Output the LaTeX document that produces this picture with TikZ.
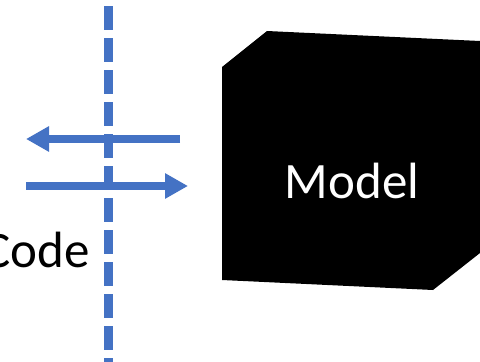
\documentclass[tikz,border=0pt]{standalone}
\usepackage{fontspec}
\setmainfont{Carlito}
\usepackage{xcolor}
\usetikzlibrary{arrows.meta}
\definecolor{officeblue}{HTML}{4472C4}
\tikzset{
  flow/.style={officeblue,line width=8pt,-{Triangle[length=23pt,width=24pt]}},
  wall/.style={officeblue,line width=8.5pt,dash pattern=on 24pt off 8pt},
  big/.style={font=\fontsize{51}{60}\selectfont}
}

\begin{document}
\begin{tikzpicture}[x=1pt,y=-1pt]
    \useasboundingbox (0,0) rectangle (480,362);
    % the black box
    \fill[black] (222,67) -- (267,31) -- (480,41) -- (480,253)
       -- (433,290) -- (222,280) -- cycle;
    \node[big,white,anchor=base] (model) at (352,198) {Model};
    \node[big,anchor=base east] (code) at (93,267) {Code};
    % boundary between the two sides
    \coordinate (top) at (108.5,6);
    \coordinate (bot) at (108.5,370);
    \draw[wall] (top) -- (bot);
    \coordinate (inR) at (180,139);
    \coordinate (inL) at (26,139);
    \coordinate (outL) at (26,186);
    \coordinate (outR) at (188,186);
    \draw[flow] (inR) -- (inL);
    \draw[flow] (outL) -- (outR);
  \end{tikzpicture}
\end{document}
